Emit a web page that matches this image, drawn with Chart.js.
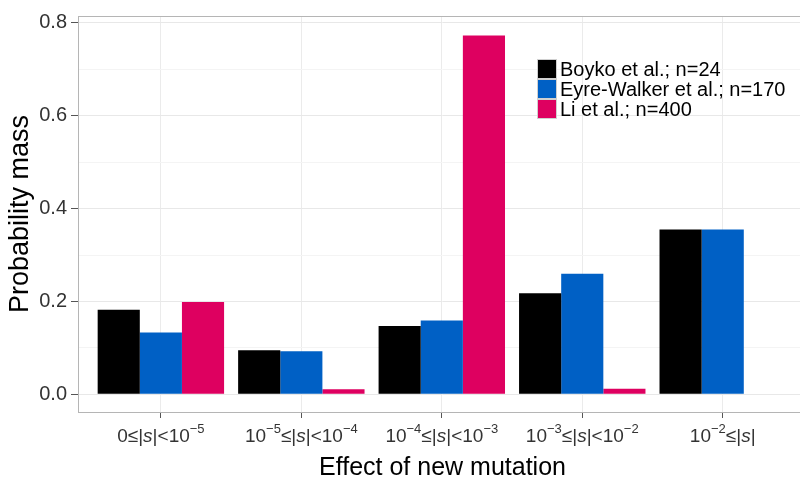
<!DOCTYPE html>
<html><head><meta charset="utf-8">
<script src="https://cdn.jsdelivr.net/npm/chart.js@4/dist/chart.umd.min.js"></script>
<style>
html,body{margin:0;padding:0;overflow:hidden;background:#fff;width:800px;height:481px}
#wrap{position:relative;width:808px;height:481px}
</style>
</head><body><div id="wrap"><canvas id="c" width="808" height="481"></canvas></div>
<script>
const categories = ['0≤|s|<10⁻⁵', '10⁻⁵≤|s|<10⁻⁴', '10⁻⁴≤|s|<10⁻³', '10⁻³≤|s|<10⁻²', '10⁻²≤|s|'];
const seriesNames = ['Boyko et al.; n=24', 'Eyre-Walker et al.; n=170', 'Li et al.; n=400'];
const boyko = [0.182, 0.095, 0.147, 0.218, 0.355];
const eyreWalker = [0.133, 0.093, 0.159, 0.260, 0.355];
const li = [0.199, 0.011, 0.773, 0.012, null];
const yTicks = [0, 0.1, 0.2, 0.3, 0.4, 0.5, 0.6, 0.7, 0.8];
const colors = ['#000000', '#0060C5', '#DE0060'];

const seriesValues = [boyko, eyreWalker, li];
const FONT = "'Liberation Sans', Arial, Helvetica, sans-serif";
const SUP = { '⁻': '−', '⁰': '0', '¹': '1', '²': '2', '³': '3', '⁴': '4', '⁵': '5', '⁶': '6', '⁷': '7', '⁸': '8', '⁹': '9' };

const panelPlugin = {
  id: 'panel',
  beforeDatasetsDraw(chart) {
    const a = chart.chartArea, ctx = chart.ctx;
    ctx.save();
    ctx.strokeStyle = '#b5b5b5';
    ctx.lineWidth = 1;
    ctx.strokeRect(a.left + 0.5, a.top + 0.5, a.right - a.left - 1, a.bottom - a.top);
    ctx.restore();
  }
};

// draws the category labels with real superscripts and italic s
const mathLabelPlugin = {
  id: 'mathLabels',
  afterDraw(chart) {
    const ctx = chart.ctx, xs = chart.scales.x;
    const base = 19, sup = 13, raise = 9;
    const y = chart.chartArea.bottom + 30;
    ctx.save();
    ctx.fillStyle = '#333';
    ctx.textBaseline = 'alphabetic';
    ctx.textAlign = 'left';
    categories.forEach((lab, i) => {
      const segs = [];
      for (const ch of lab) {
        if (SUP[ch]) segs.push({ t: SUP[ch], f: sup + 'px ' + FONT, dy: -raise });
        else if (ch === 's') segs.push({ t: ch, f: 'italic ' + base + 'px ' + FONT, dy: 0 });
        else segs.push({ t: ch, f: base + 'px ' + FONT, dy: 0 });
      }
      let w = 0;
      segs.forEach(s => { ctx.font = s.f; s.w = ctx.measureText(s.t).width; w += s.w; });
      let x = xs.getPixelForValue(i) - w / 2;
      segs.forEach(s => { ctx.font = s.f; ctx.fillText(s.t, x, y + s.dy); x += s.w; });
    });
    ctx.restore();
  }
};

const legendPlugin = {
  id: 'insideLegend',
  afterDraw(chart) {
    const ctx = chart.ctx;
    const x0 = 538, y0 = 60, key = 18, row = 20;
    ctx.save();
    ctx.font = "20px " + FONT;
    ctx.textBaseline = 'middle';
    ctx.textAlign = 'left';
    chart.data.datasets.forEach((ds, i) => {
      const y = y0 + i * row;
      ctx.fillStyle = ds.backgroundColor;
      ctx.fillRect(x0, y, key, key);
      ctx.strokeStyle = '#d0d0d0';
      ctx.lineWidth = 1;
      ctx.strokeRect(x0 - 0.5, y - 0.5, key + 1, key + 1);
      ctx.fillStyle = '#000';
      ctx.fillText(ds.label, x0 + key + 4, y + key / 2 + 1);
    });
    ctx.restore();
  }
};

new Chart(document.getElementById('c'), {
  type: 'bar',
  data: {
    datasets: seriesValues.map((vals, k) => ({
      label: seriesNames[k],
      data: vals.map((v, i) => ({ x: i, y: v })),
      backgroundColor: colors[k],
      borderWidth: 0,
      categoryPercentage: 0.9,
      barPercentage: 1.0
    }))
  },
  options: {
    responsive: false,
    animation: false,
    layout: { padding: { top: 8, right: 1, left: 0, bottom: 0 } },
    plugins: { legend: { display: false }, tooltip: { enabled: false } },
    scales: {
      x: {
        type: 'linear',
        min: -0.59,
        max: 4.6,
        offset: false,
        afterBuildTicks: s => { s.ticks = categories.map((c, i) => ({ value: i })); },
        afterFit: s => { s.height = 69; },
        ticks: {
          display: false,
          callback: v => categories[v],
          autoSkip: false,
          maxRotation: 0
        },
        grid: { color: '#ebebeb', tickColor: '#555', tickLength: 6, offset: false, drawTicks: true },
        border: { display: false },
        title: { display: true, text: 'Effect of new mutation', font: { family: FONT, size: 25, lineHeight: 1 }, color: '#000', padding: { top: 0, bottom: 0 } }
      },
      y: {
        min: -0.038,
        max: 0.815,
        afterBuildTicks: s => { s.ticks = yTicks.map(v => ({ value: v })); },
        afterFit: s => { s.width = 78; },
        ticks: {
          callback: v => (Math.round(v * 10) % 2 === 0 ? v.toFixed(1) : ''),
          font: { family: FONT, size: 20 },
          color: '#333',
          padding: 4
        },
        grid: {
          color: c => (Math.round(c.tick.value * 10) % 2 === 0 ? '#e8e8e8' : '#f4f4f4'),
          tickColor: c => (Math.round(c.tick.value * 10) % 2 === 0 ? '#555' : 'rgba(0,0,0,0)'),
          tickLength: 7
        },
        border: { display: false },
        title: { display: true, text: 'Probability mass', font: { family: FONT, size: 27 }, color: '#000', padding: { top: 4, bottom: 0 } }
      }
    }
  },
  plugins: [panelPlugin, mathLabelPlugin, legendPlugin]
});
</script>
</body></html>
